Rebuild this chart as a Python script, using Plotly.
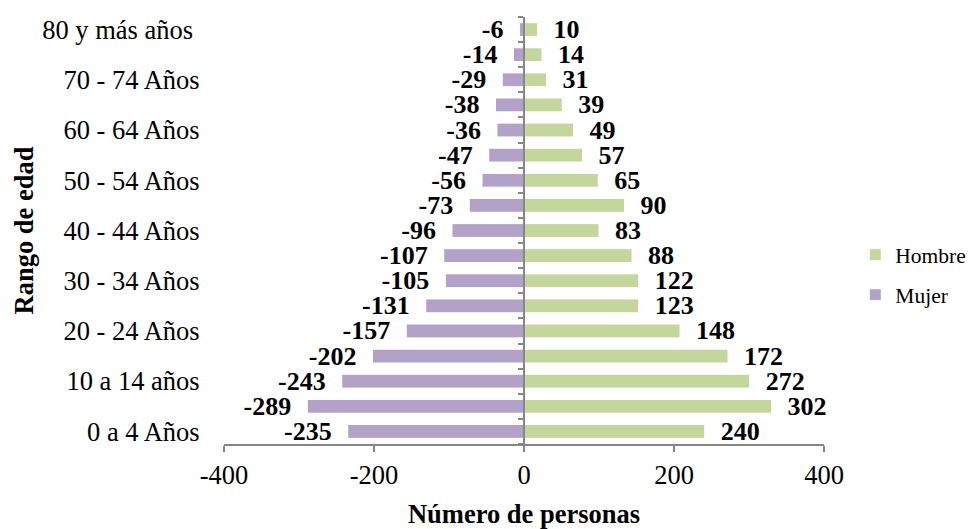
import plotly.graph_objects as go

# Age groups, bottom to top
categories = [
    "0 a 4 Años", "5 a 9 años", "10 a 14 años", "15 a 19 años",
    "20 - 24 Años", "25 - 29 Años", "30 - 34 Años", "35 - 39 Años",
    "40 - 44 Años", "45 - 49 Años", "50 - 54 Años", "55 - 59 Años",
    "60 - 64 Años", "65 - 69 Años", "70 - 74 Años", "75 - 79 Años",
    "80 y más años\u00a0",
]

# Bar lengths
hombre = [241, 330, 301, 272, 208, 153, 153, 144, 100, 134, 99, 78, 66, 51, 30, 24, 18]
mujer = [-235, -289, -243, -202, -157, -131, -105, -107, -96, -73, -56, -47, -36, -38, -29, -14, -6]

# Data labels as printed on the chart
hombre_labels = [240, 302, 272, 172, 148, 123, 122, 88, 83, 90, 65, 57, 49, 39, 31, 14, 10]
mujer_labels = [-235, -289, -243, -202, -157, -131, -105, -107, -96, -73, -56, -47, -36, -38, -29, -14, -6]

x_ticks = [-400, -200, 0, 200, 400]

serif = "Liberation Serif, Times New Roman, serif"
pad = "\u00a0\u00a0"

fig = go.Figure()

fig.add_bar(
    y=categories,
    x=hombre,
    orientation="h",
    name="Hombre",
    legendgroup="h",
    marker=dict(color="#C3D69B", line=dict(color="#FFFFFF", width=1)),
    text=[pad + str(v) for v in hombre_labels],
    textposition="outside",
    textfont=dict(family=serif, size=26, color="black", weight="bold"),
    cliponaxis=False,
    constraintext="none",
)
fig.add_bar(
    y=categories,
    x=mujer,
    orientation="h",
    name="Mujer",
    legendgroup="m",
    marker=dict(color="#B3A2C7", line=dict(color="#FFFFFF", width=1)),
    text=[str(v) + pad for v in mujer_labels],
    textposition="outside",
    textfont=dict(family=serif, size=26, color="black", weight="bold"),
    cliponaxis=False,
    constraintext="none",
)

# invisible trace so the zero axis (with its boundary ticks) gets drawn
fig.add_scatter(
    y=categories,
    x=[0] * len(categories),
    yaxis="y2",
    mode="markers",
    marker=dict(opacity=0),
    showlegend=False,
    hoverinfo="skip",
)

# the page body adds an 8px offset, so the figure is 8px smaller each way
fig.update_layout(
    width=970,
    height=521,
    margin=dict(l=216, r=154, t=9, b=85),
    plot_bgcolor="white",
    paper_bgcolor="white",
    barmode="relative",
    bargap=0.45,
    font=dict(family=serif, size=26, color="black"),
    xaxis=dict(
        range=[-400, 400],
        tickvals=x_ticks,
        ticktext=[str(v) for v in x_ticks],
        automargin=False,
        showgrid=False,
        zeroline=False,
        showline=True,
        linecolor="#868686",
        linewidth=1.5,
        ticks="outside",
        ticklen=6,
        tickcolor="#868686",
        tickwidth=1.5,
        tickfont=dict(size=26.5),
        title=dict(text="<b>Número de personas</b>", font=dict(size=26.5), standoff=18),
    ),
    yaxis=dict(
        type="category",
        categoryorder="array",
        categoryarray=categories,
        range=[-0.5, 16.5],
        tickvals=categories[::2],
        ticktext=categories[::2],
        automargin=False,
        showgrid=False,
        zeroline=False,
        showline=False,
        ticks="outside",
        ticklen=18,
        tickcolor="rgba(0,0,0,0)",
        tickfont=dict(size=26.5),
        title=dict(text="<b>Rango de edad</b>", font=dict(size=26.5), standoff=0),
    ),
    yaxis2=dict(
        type="category",
        categoryorder="array",
        categoryarray=categories,
        range=[-0.5, 16.5],
        overlaying="y",
        anchor="free",
        position=0.5,
        side="left",
        automargin=False,
        showgrid=False,
        zeroline=False,
        showline=True,
        linecolor="#868686",
        linewidth=1.5,
        ticks="outside",
        tickson="boundaries",
        ticklen=5,
        tickcolor="#868686",
        tickwidth=1.5,
        showticklabels=False,
    ),
    legend=dict(
        xref="container",
        yref="container",
        x=0.8735,
        y=0.488,
        xanchor="left",
        yanchor="middle",
        font=dict(size=21.5),
        itemwidth=30,
        tracegroupgap=9,
        traceorder="grouped",
    ),
    showlegend=True,
)

fig.write_html("out.html")
